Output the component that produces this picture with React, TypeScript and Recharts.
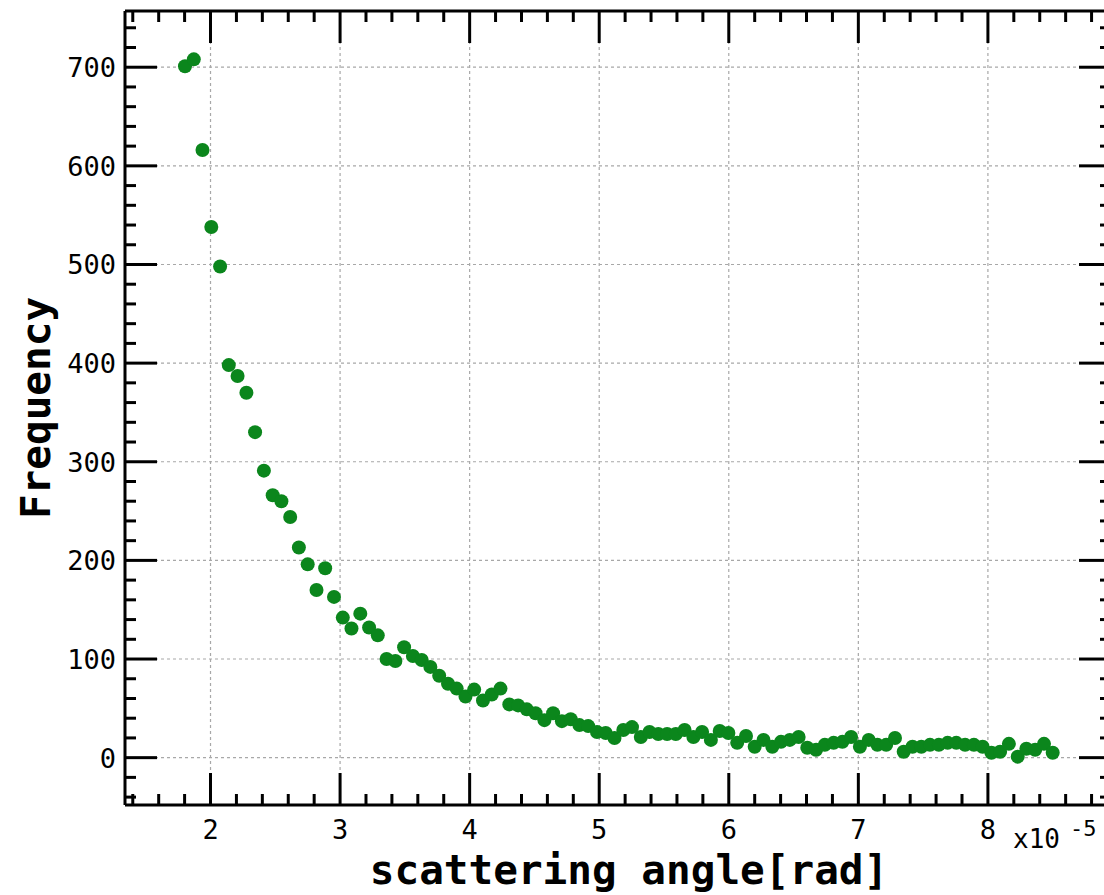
import { CartesianGrid, Scatter, ScatterChart, XAxis, YAxis } from "recharts";

// bin centres, in units of 1e-5 rad
const angle = [
  1.803, 1.871, 1.938, 2.006, 2.074, 2.141, 2.209, 2.277, 2.344, 2.412,
  2.48, 2.547, 2.615, 2.682, 2.75, 2.818, 2.885, 2.953, 3.021, 3.088,
  3.156, 3.224, 3.291, 3.359, 3.427, 3.494, 3.562, 3.63, 3.697, 3.765,
  3.833, 3.9, 3.968, 4.035, 4.103, 4.171, 4.238, 4.306, 4.374, 4.441,
  4.509, 4.577, 4.644, 4.712, 4.78, 4.847, 4.915, 4.983, 5.05, 5.118,
  5.186, 5.253, 5.321, 5.388, 5.456, 5.524, 5.591, 5.659, 5.727, 5.794,
  5.862, 5.93, 5.997, 6.065, 6.133, 6.2, 6.268, 6.336, 6.403, 6.471,
  6.539, 6.606, 6.674, 6.741, 6.809, 6.877, 6.944, 7.012, 7.08, 7.147,
  7.215, 7.283, 7.35, 7.418, 7.486, 7.553, 7.621, 7.689, 7.756, 7.824,
  7.892, 7.959, 8.027, 8.094, 8.162, 8.23, 8.297, 8.365, 8.433, 8.5,
];

const frequency = [
  701, 708, 616, 538, 498, 398, 387, 370, 330, 291,
  266, 260, 244, 213, 196, 170, 192, 163, 142, 131,
  146, 132, 124, 100, 98, 112, 103, 99, 92, 83,
  75, 70, 62, 69, 58, 64, 70, 54, 53, 49,
  45, 38, 45, 37, 39, 33, 32, 26, 25, 20,
  28, 31, 21, 26, 24, 24, 24, 28, 21, 26,
  18, 27, 25, 15, 22, 11, 18, 11, 16, 18,
  21, 10, 8, 13, 15, 16, 21, 11, 18, 13,
  13, 20, 6, 11, 11, 13, 13, 15, 15, 13,
  13, 11, 5, 6, 14, 1, 9, 8, 14, 5,
];

const xTicks = [
  1.4, 1.6, 1.8, 2, 2.2, 2.4, 2.6, 2.8, 3, 3.2, 3.4, 3.6, 3.8, 4, 4.2, 4.4, 4.6, 4.8, 5,
  5.2, 5.4, 5.6, 5.8, 6, 6.2, 6.4, 6.6, 6.8, 7, 7.2, 7.4, 7.6, 7.8, 8, 8.2, 8.4, 8.6, 8.8,
];
const xMajor = [2, 3, 4, 5, 6, 7, 8];

const yTicks = [
  -40, -20, 0, 20, 40, 60, 80, 100, 120, 140, 160, 180, 200, 220, 240, 260, 280, 300,
  320, 340, 360, 380, 400, 420, 440, 460, 480, 500, 520, 540, 560, 580, 600, 620, 640,
  660, 680, 700, 720, 740,
];
const yMajor = [0, 100, 200, 300, 400, 500, 600, 700];

const points = angle.map((x, i) => ({ x, y: frequency[i] }));

const FONT = "'DejaVu Sans Mono', monospace";
const GREEN = "#0b861c";

type Side = "bottom" | "top" | "left" | "right";

// inward-pointing ticks, long on majors, labels only on bottom/left
function makeTick(side: Side, majors: number[], labels: boolean) {
  return (props: any) => {
    const { x, y, payload } = props;
    const major = majors.includes(payload.value);
    const len = major ? 32 : 11;
    let x2 = x;
    let y2 = y;
    if (side === "bottom") y2 = y - len;
    if (side === "top") y2 = y + len;
    if (side === "left") x2 = x + len;
    if (side === "right") x2 = x - len;
    return (
      <g>
        <line x1={x} y1={y} x2={x2} y2={y2} stroke="#000" strokeWidth={3} />
        {labels && major && side === "bottom" && (
          <text x={x} y={y + 34} textAnchor="middle" fontFamily={FONT} fontSize={27} fill="#000">
            {payload.value}
          </text>
        )}
        {labels && major && side === "left" && (
          <text x={x - 9} y={y + 10} textAnchor="end" fontFamily={FONT} fontSize={27} fill="#000">
            {payload.value}
          </text>
        )}
      </g>
    );
  };
}

function XTitle(props: any) {
  const vb = props.viewBox;
  return (
    <g>
      <text
        x={vb.x + vb.width / 2 + 11}
        y={vb.y + 79}
        textAnchor="middle"
        fontFamily={FONT}
        fontWeight="bold"
        fontSize={41}
        fill="#000"
      >
        scattering angle[rad]
      </text>
      <text x={1013} y={848} fontFamily={FONT} fontSize={26} fill="#000">
        x10
      </text>
      <text x={1070} y={836} fontFamily={FONT} fontSize={22} fill="#000">
        -5
      </text>
    </g>
  );
}

function YTitle(props: any) {
  const vb = props.viewBox;
  const cy = vb.y + vb.height / 2;
  return (
    <text
      x={50}
      y={cy}
      transform={`rotate(-90, 50, ${cy})`}
      textAnchor="middle"
      fontFamily={FONT}
      fontWeight="bold"
      fontSize={41}
      fill="#000"
    >
      Frequency
    </text>
  );
}

const axisLine = { stroke: "#000", strokeWidth: 3 };

export default function App() {
  return (
    <div
      style={{
        position: "absolute",
        left: 0,
        top: 0,
        width: 1104,
        height: 895,
        overflow: "hidden",
        background: "#fff",
      }}
    >
      <ScatterChart width={1125} height={895} margin={{ top: 10, right: 13, bottom: 89, left: 124 }}>
        <CartesianGrid
          stroke="#a8a8a8"
          strokeWidth={1.2}
          strokeDasharray="3 3"
          verticalValues={xMajor}
          horizontalValues={yMajor}
          xAxisId="bottom"
          yAxisId="left"
        />
        <XAxis
          xAxisId="bottom"
          type="number"
          dataKey="x"
          orientation="bottom"
          domain={[1.34, 8.95]}
          allowDataOverflow
          ticks={xTicks}
          interval={0}
          height={1}
          tickSize={0}
          tickMargin={0}
          tickLine={false}
          axisLine={axisLine}
          tick={makeTick("bottom", xMajor, true)}
          label={XTitle}
        />
        <XAxis
          xAxisId="top"
          type="number"
          dataKey="x"
          orientation="top"
          domain={[1.34, 8.95]}
          allowDataOverflow
          ticks={xTicks}
          interval={0}
          height={1}
          tickSize={0}
          tickMargin={0}
          tickLine={false}
          axisLine={axisLine}
          tick={makeTick("top", xMajor, false)}
        />
        <YAxis
          yAxisId="left"
          type="number"
          dataKey="y"
          orientation="left"
          domain={[-48, 757]}
          allowDataOverflow
          ticks={yTicks}
          interval={0}
          width={1}
          tickSize={0}
          tickMargin={0}
          tickLine={false}
          axisLine={axisLine}
          tick={makeTick("left", yMajor, true)}
          label={YTitle}
        />
        <YAxis
          yAxisId="right"
          type="number"
          dataKey="y"
          orientation="right"
          domain={[-48, 757]}
          allowDataOverflow
          ticks={yTicks}
          interval={0}
          width={1}
          tickSize={0}
          tickMargin={0}
          tickLine={false}
          axisLine={axisLine}
          tick={makeTick("right", yMajor, false)}
        />
        <Scatter
          data={points}
          xAxisId="bottom"
          yAxisId="left"
          isAnimationActive={false}
          shape={(p: any) => <circle cx={p.cx} cy={p.cy} r={7} fill={GREEN} />}
        />
      </ScatterChart>
    </div>
  );
}
